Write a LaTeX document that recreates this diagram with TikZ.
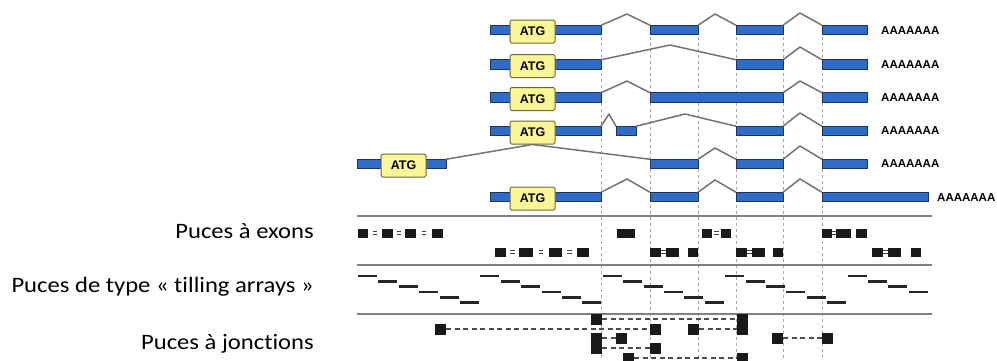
\documentclass[tikz,border=0pt]{standalone}
\usepackage{fontspec}
\setmainfont{Carlito}[Ligatures=NoCommon]
\newfontfamily\arialfam{Liberation Sans}
\definecolor{exonblue}{RGB}{46,108,200}
\definecolor{exonedge}{RGB}{30,50,100}
\definecolor{atgfill}{RGB}{250,245,150}
\definecolor{atgedge}{RGB}{110,105,50}
\tikzset{
  exon/.style={draw=exonedge, fill=exonblue, line width=0.7pt, inner sep=0pt, outer sep=0pt, minimum height=9.5pt, anchor=west},
  atgbox/.style={draw=atgedge, fill=atgfill, line width=1pt, rounded corners=1.5pt, minimum width=45pt, minimum height=23pt, inner sep=0pt, font=\arialfam\bfseries\fontsize{12.5}{12}\selectfont},
  intron/.style={draw=black!55, line width=1.5pt, line join=round},
  polyA/.style={font=\arialfam\bfseries\fontsize{11.5}{12}\selectfont, anchor=west, inner sep=0pt},
  guide/.style={draw=black!35, line width=0.8pt, dash pattern=on 3pt off 3pt},
  sepline/.style={draw=black!50, line width=2.2pt},
  tile/.style={draw=black!85, line width=2.8pt},
  pairmark/.style={draw=black!75, line width=1pt},
  jprobe/.style={fill=black!90, inner sep=0pt, outer sep=0pt, minimum width=11pt, minimum height=11pt, anchor=west},
  junction/.style={draw=black!70, line width=1.8pt, dash pattern=on 5pt off 3.5pt},
  lbl/.style={font=\fontsize{22}{24}\selectfont, anchor=base east, inner sep=0pt, xscale=1.12}
}
\newcommand\exonbar[4]{\node[exon, minimum width={#3pt-#2pt}] (#1) at (#2,#4) {};}
\newcommand\probegroup[2]{% #1 = y, #2 = list of x1/x2
  \foreach \xa/\xb in {#2} {\fill[black!90] (\xa,#1-4.5) rectangle (\xb,#1+4.5);}}
\newcommand\pairsign[2]{% #1 = x, #2 = y
  \draw[pairmark] (#1-2.2,#2-1.7) -- (#1+2.2,#2-1.7) (#1-2.2,#2+1.7) -- (#1+2.2,#2+1.7);}
\begin{document}
\begin{tikzpicture}[x=1pt, y=-1pt]
\useasboundingbox (0,0) rectangle (997,360);
% guide lines
\foreach \gx in {601,650,698,736,783,822} \draw[guide] (\gx,37) -- (\gx,360);
% separators
\foreach \sy in {216,265,314} \draw[sepline] (357,\sy) -- (932,\sy);

% ---- row 1
\exonbar{e11}{490}{601}{30}
\exonbar{e12}{650}{698}{30}
\exonbar{e13}{736}{783}{30}
\exonbar{e14}{822}{867}{30}
\node[atgbox] (atg1) at (532.5,31.5) {ATG};
\draw[intron] (e11.north east) -- (627,14) -- (e12.north west);
\draw[intron] (e12.north east) -- (715,14) -- (e13.north west);
\draw[intron] (e13.north east) -- (800,13) -- (e14.north west);
\node[polyA] (pa1) at (881,31) {AAAAAAA};

% ---- row 2
\exonbar{e21}{490}{601}{64.5}
\exonbar{e23}{736}{783}{64.5}
\exonbar{e24}{822}{867}{64.5}
\node[atgbox] (atg2) at (532.5,66) {ATG};
\draw[intron] (e21.north east) -- (670,45) -- (e23.north west);
\draw[intron] (e23.north east) -- (800,47) -- (e24.north west);
\node[polyA] (pa2) at (881,65) {AAAAAAA};

% ---- row 3
\exonbar{e31}{490}{601}{97.5}
\exonbar{e32}{650}{783}{97.5}
\exonbar{e34}{822}{867}{97.5}
\node[atgbox] (atg3) at (532.5,99) {ATG};
\draw[intron] (e31.north east) -- (627,81) -- (e32.north west);
\draw[intron] (e32.north east) -- (800,81) -- (e34.north west);
\node[polyA] (pa3) at (881,98) {AAAAAAA};

% ---- row 4
\exonbar{e41}{490}{601}{131}
\exonbar{e42}{616}{636}{131}
\exonbar{e43}{736}{783}{131}
\exonbar{e44}{822}{867}{131}
\node[atgbox] (atg4) at (532.5,132.5) {ATG};
\draw[intron] (e41.north east) -- (609,114) -- (e42.north west);
\draw[intron] (e42.north east) -- (685,114) -- (e43.north west);
\draw[intron] (e43.north east) -- (800,113) -- (e44.north west);
\node[polyA] (pa4) at (881,131) {AAAAAAA};

% ---- row 5
\exonbar{e51}{357}{446}{164}
\exonbar{e52}{650}{698}{164}
\exonbar{e53}{736}{783}{164}
\exonbar{e54}{822}{867}{164}
\node[atgbox] (atg5) at (403.5,165.5) {ATG};
\draw[intron] (e51.north east) -- (atg4.south) -- (e52.north west);
\draw[intron] (e52.north east) -- (715,148) -- (e53.north west);
\draw[intron] (e53.north east) -- (800,146) -- (e54.north west);
\node[polyA] (pa5) at (881,164) {AAAAAAA};

% ---- row 6
\exonbar{e61}{490}{601}{197}
\exonbar{e62}{650}{698}{197}
\exonbar{e63}{736}{783}{197}
\exonbar{e64}{822}{928}{197}
\node[atgbox] (atg6) at (532.5,198.5) {ATG};
\draw[intron] (e61.north east) -- (627,179) -- (e62.north west);
\draw[intron] (e62.north east) -- (715,180) -- (e63.north west);
\draw[intron] (e63.north east) -- (800,179) -- (e64.north west);
\node[polyA] (pa6) at (937,198) {AAAAAAA};

% ---- exon arrays
\probegroup{233}{358/368,382/393,405/416,432/443}
\pairsign{375}{233}\pairsign{399}{233}\pairsign{424}{233}
\probegroup{233}{617/635}
\probegroup{233}{702/712,721/731}
\pairsign{716.5}{233}
\probegroup{233}{822/832,836/851,856/867}
\pairsign{834}{233}
\probegroup{252}{495/506,519/533,549/562,577/589}
\pairsign{512.5}{252}\pairsign{541}{252}\pairsign{569.5}{252}
\probegroup{252}{650/661,666/679,688/698}
\pairsign{663.5}{252}
\probegroup{252}{736/747,752/765,773/783}
\pairsign{749.5}{252}
\probegroup{252}{872/883,888/901,911/921}
\pairsign{885.5}{252}

% ---- tiling arrays
\foreach \i in {0,...,27} {
  \pgfmathsetmacro\tx{358+20.4*\i}
  \pgfmathsetmacro\ty{276+5.3*mod(\i,6)}
  \draw[tile] (\tx,\ty) -- ++(19,0);
}

% ---- junction arrays
\node[jprobe] (j1a) at (591,319) {};
\node[jprobe] (j1b) at (737,319) {};
\node[jprobe] (j2a) at (435,329) {};
\node[jprobe] (j2b) at (650,329) {};
\node[jprobe] (j2c) at (688,329) {};
\node[jprobe] (j2d) at (737,329) {};
\node[jprobe] (j3a) at (591,338) {};
\node[jprobe] (j3b) at (616,338) {};
\node[jprobe] (j3c) at (772,338) {};
\node[jprobe] (j3d) at (822,338) {};
\node[jprobe] (j4a) at (591,348) {};
\node[jprobe] (j4b) at (650,348) {};
\node[jprobe] (j5a) at (623,358) {};
\node[jprobe] (j5b) at (737,358) {};
\draw[junction] (j1a) -- (j1b);
\draw[junction] (j2a) -- (j2b);
\draw[junction] (j2c) -- (j2d);
\draw[junction] (j3a) -- (j3b);
\draw[junction] (j3c) -- (j3d);
\draw[junction] (j4a) -- (j4b);
\draw[junction] (j5a) -- (j5b);

% ---- labels
\node[lbl] (l1) at (314,238) {Puces à exons};
\node[lbl] (l2) at (314,292.5) {Puces de type « tilling arrays »};
\node[lbl] (l3) at (314,349) {Puces à jonctions};
\end{tikzpicture}
\end{document}
